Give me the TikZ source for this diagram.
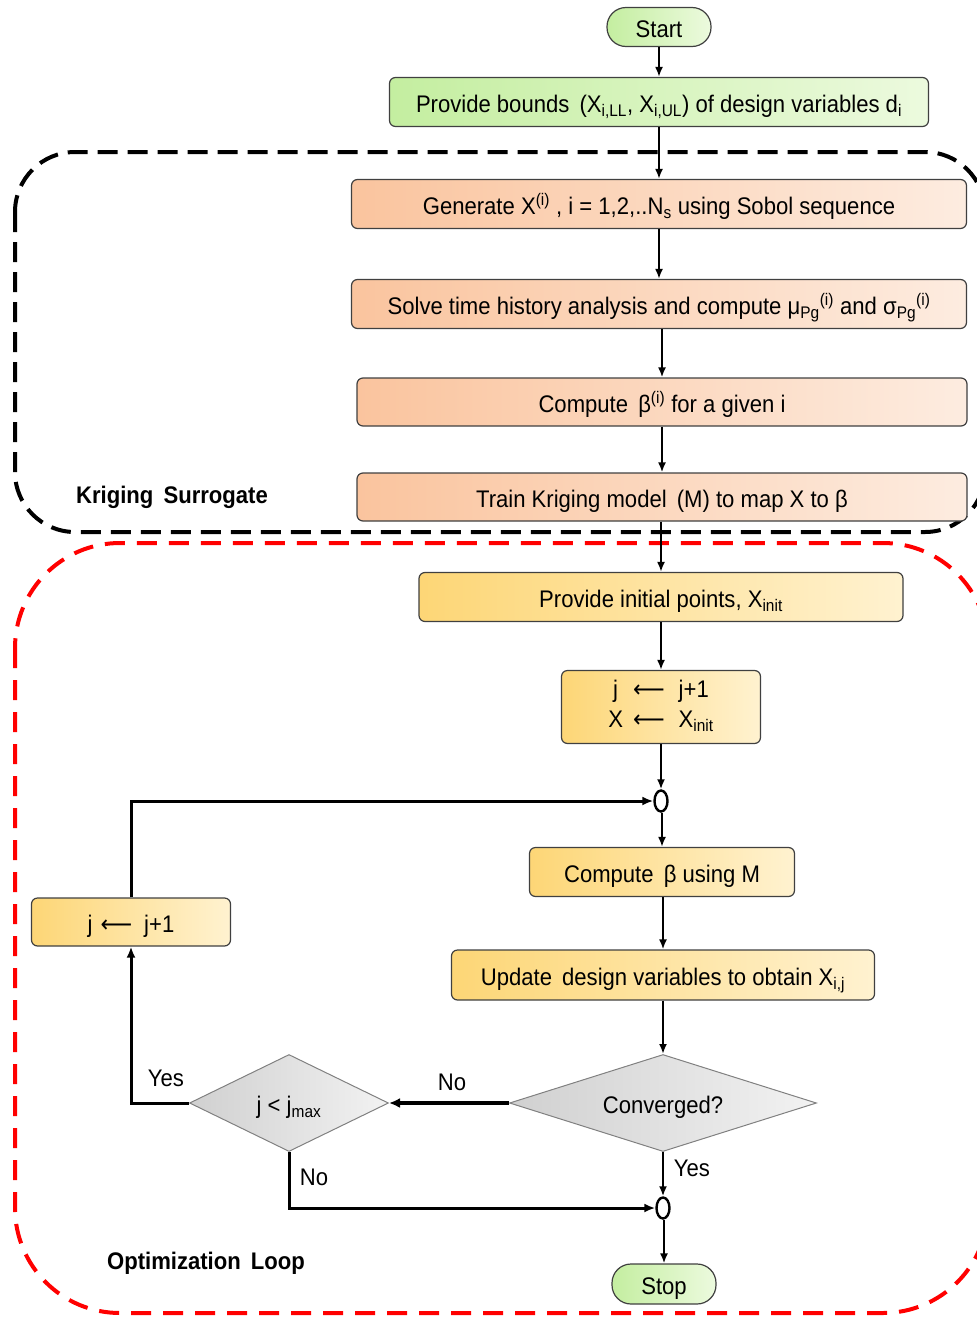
\documentclass[tikz,border=0pt]{standalone}
\usepackage{fontspec}
\setmainfont{Liberation Sans}[FakeStretch=0.92]
\newfontfamily\djv{DejaVu Sans}[FakeStretch=0.92]
\usetikzlibrary{shapes.geometric,arrows.meta,calc}
\definecolor{gA}{RGB}{196,238,160}
\definecolor{gB}{RGB}{236,250,222}
\definecolor{oA}{RGB}{250,196,158}
\definecolor{oB}{RGB}{253,236,224}
\definecolor{yA}{RGB}{253,214,118}
\definecolor{yB}{RGB}{255,242,208}
\definecolor{dA}{RGB}{208,208,208}
\definecolor{dB}{RGB}{242,242,242}
\newcommand{\larr}{{\djv\char"27F5}}
\begin{document}
\begin{tikzpicture}[x=1pt,y=-1pt,
  txt/.style={font=\fontsize{24}{29}\selectfont},
  oneline/.style={text height=21pt, text depth=0pt},
  boxbase/.style={draw=black!75, line width=1.2pt, rounded corners=6pt, inner sep=0pt, txt},
  greenbox/.style={boxbase, left color=gA, right color=gB},
  orangebox/.style={boxbase, left color=oA, right color=oB},
  yellowbox/.style={boxbase, left color=yA, right color=yB},
  decision/.style={diamond, draw=black!50, line width=1pt, left color=dA, right color=dB, inner sep=0pt, txt},
  junction/.style={ellipse, draw=black, line width=2.4pt, fill=white, minimum width=13pt, minimum height=21pt, inner sep=0pt},
  arr/.style={-{Latex[length=10pt,width=8pt]}, line width=2.3pt},
  looparr/.style={-{Latex[length=11pt,width=9pt]}, line width=3pt},
  thickarr/.style={-{Latex[length=11pt,width=10pt]}, line width=3.6pt},
  lbl/.style={txt},
  grouplbl/.style={font=\fontsize{24}{29}\selectfont\bfseries}
]
\useasboundingbox (0,0) rectangle (977,1317);
\clip (0,0) rectangle (977,1317);

% group frames
\draw[line width=4pt, dash pattern=on 20pt off 10pt, rounded corners=60pt] (15,152) rectangle (985,532);
\draw[red, line width=4pt, dash pattern=on 20pt off 12pt, rounded corners=105pt] (15,543) rectangle (988,1313);
\node[grouplbl] (kslbl) at (172,497) {Kriging\, Surrogate};
\node[grouplbl] (ollbl) at (206,1263) {Optimization\, Loop};

% nodes
\node[greenbox, oneline, rounded corners=19pt, minimum width=104pt, minimum height=39pt] (start) at (659,27) {Start};
\node[greenbox, oneline, minimum width=539pt, minimum height=49pt] (bounds) at (659,102)
  {Provide bounds\, (X\textsubscript{i,LL}, X\textsubscript{i,UL}) of design variables d\textsubscript{i}};
\node[orangebox, oneline, minimum width=615pt, minimum height=49pt] (gen) at (659,204)
  {Generate X\textsuperscript{(i)} , i = 1,2,..N\textsubscript{s} using Sobol sequence};
\node[orangebox, oneline, minimum width=615pt, minimum height=49pt] (solve) at (659,304)
  {Solve time history analysis and compute μ\textsubscript{Pg}\textsuperscript{(i)} and σ\textsubscript{Pg}\textsuperscript{(i)}};
\node[orangebox, oneline, minimum width=610pt, minimum height=48pt] (comp) at (662,402)
  {Compute\, β\textsuperscript{(i)} for a given i};
\node[orangebox, oneline, minimum width=610pt, minimum height=48pt] (train) at (662,497)
  {Train Kriging model\, (M) to map X to β};
\node[yellowbox, oneline, minimum width=484pt, minimum height=49pt] (init) at (661,597)
  {Provide initial points, X\textsubscript{init}};
\node[yellowbox, minimum width=199pt, minimum height=73pt] (jx) at (661,707)
  {\raisebox{-4pt}{\begin{tabular}{@{}c@{\hspace{10pt}}c@{\hspace{14pt}}l@{}}j & \larr & j+1\\[1pt] X & \larr & X\textsubscript{init}\end{tabular}}};
\node[junction] (jn1) at (661,801) {};
\node[yellowbox, oneline, minimum width=265pt, minimum height=49pt] (compM) at (662,872)
  {Compute\, β using M};
\node[yellowbox, oneline, minimum width=199pt, minimum height=48pt] (jleft) at (131,922)
  {j\hspace{8pt}\larr\hspace{12pt}j+1};
\node[yellowbox, oneline, minimum width=423pt, minimum height=50pt] (upd) at (663,975)
  {Update\, design variables to obtain X\textsubscript{i,j}};
\node[decision, oneline, minimum width=307pt, minimum height=97pt, aspect=3.16] (conv) at (663,1103) {Converged?};
\node[decision, oneline, minimum width=199pt, minimum height=97pt, aspect=2.05] (jmax) at (289,1103) {j < j\textsubscript{max}};
\node[junction] (jn2) at (663,1208) {};
\node[greenbox, oneline, rounded corners=19pt, minimum width=104pt, minimum height=40pt] (stop) at (664,1284) {Stop};

% connectors
\draw[arr] (start.south) -- (bounds.north -| start.south);
\draw[arr] (bounds.south -| gen.north) -- (gen.north);
\draw[arr] (gen.south) -- (solve.north -| gen.south);
\draw[arr] (solve.south -| comp.north) -- (comp.north);
\draw[arr] (comp.south) -- (train.north);
\draw[arr] (train.south -| init.north) -- (init.north);
\draw[arr] (init.south) -- (jx.north);
\draw[arr] (jx.south) -- (jn1.north);
\draw[arr] (jn1.south -| compM.north) -- (compM.north);
\draw[arr] (compM.south -| upd.north) -- (upd.north);
\draw[arr] (upd.south) -- (conv.north);
\draw[thickarr] (conv.west) -- (jmax.east);
\draw[looparr] (jmax.west) -| (jleft.south);
\draw[looparr] (jleft.north) |- (jn1.west);
\draw[looparr] (jmax.south) |- (jn2.west);
\draw[arr] (conv.south) -- (jn2.north);
\draw[arr] (jn2.south -| stop.north) -- (stop.north);

% labels
\node[lbl] (yes1) at (166,1078) {Yes};
\node[lbl] (no1) at (452,1082) {No};
\node[lbl] (no2) at (314,1177) {No};
\node[lbl] (yes2) at (692,1168) {Yes};
\end{tikzpicture}
\end{document}
